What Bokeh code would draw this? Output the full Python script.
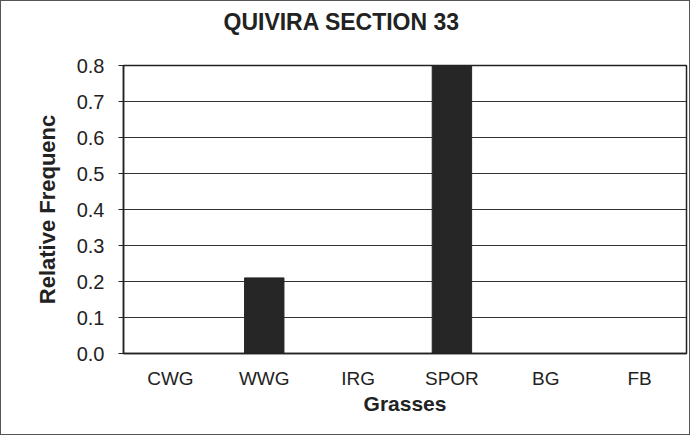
from bokeh.plotting import figure
from bokeh.models import Range1d, FixedTicker, NumeralTickFormatter, ColumnDataSource, Title
from bokeh.embed import file_html
from bokeh.resources import INLINE

categories = ["CWG", "WWG", "IRG", "SPOR", "BG", "FB"]
values = [0.0, 0.21, 0.0, 0.80, 0.0, 0.0]
y_ticks = [0.0, 0.1, 0.2, 0.3, 0.4, 0.5, 0.6, 0.7, 0.8]

src = ColumnDataSource(dict(cat=categories, val=values))

p = figure(x_range=categories, y_range=Range1d(0, 0.8), width=690, height=435,
           output_backend="svg", toolbar_location=None,
           min_border_left=122, min_border_right=5, min_border_top=10, min_border_bottom=83)
p.styles = {"border": "1px solid #555"}

p.vbar(x="cat", top="val", width=0.42, source=src, color="#262626")

spacer = Title(text=" ", text_font_size="12px")
p.add_layout(spacer, "above")
main_title = Title(text="QUIVIRA SECTION 33", text_font="Liberation Sans",
                   text_font_size="23px", text_font_style="bold", text_color="#222222",
                   align="left", offset=100)
p.add_layout(main_title, "above")

p.xgrid.visible = False
p.ygrid.grid_line_color = "#333333"
p.ygrid.grid_line_width = 1
p.ygrid.ticker = FixedTicker(ticks=y_ticks)

p.outline_line_color = "#222222"
p.outline_line_width = 1.5

p.yaxis.ticker = FixedTicker(ticks=y_ticks)
p.yaxis.formatter = NumeralTickFormatter(format="0.0")
p.yaxis.axis_label = "Relative Frequenc"
p.yaxis.axis_label_text_font = "Liberation Sans"
p.yaxis.axis_label_text_font_style = "bold"
p.yaxis.axis_label_text_font_size = "22px"
p.yaxis.axis_label_text_color = "#222222"
p.yaxis.axis_label_standoff = 14
p.yaxis.major_label_text_font = "Liberation Sans"
p.yaxis.major_label_text_font_size = "20px"
p.yaxis.major_label_text_color = "#222222"
p.yaxis.axis_line_color = "#222222"
p.yaxis.axis_line_width = 1.5
p.yaxis.major_tick_line_color = "#222222"
p.yaxis.major_tick_out = 5
p.yaxis.major_tick_in = 0
p.yaxis.minor_tick_line_color = None
p.yaxis.major_label_standoff = 14

p.xaxis.axis_label = "Grasses"
p.xaxis.axis_label_text_font = "Liberation Sans"
p.xaxis.axis_label_text_font_style = "bold"
p.xaxis.axis_label_text_font_size = "21px"
p.xaxis.axis_label_text_color = "#222222"
p.xaxis.axis_label_standoff = 0
p.xaxis.major_label_text_font = "Liberation Sans"
p.xaxis.major_label_text_font_size = "19px"
p.xaxis.major_label_text_color = "#222222"
p.xaxis.axis_line_color = "#222222"
p.xaxis.axis_line_width = 1.5
p.xaxis.major_tick_line_color = None
p.xaxis.major_label_standoff = 8

open("out.html", "w").write(file_html(p, INLINE))
